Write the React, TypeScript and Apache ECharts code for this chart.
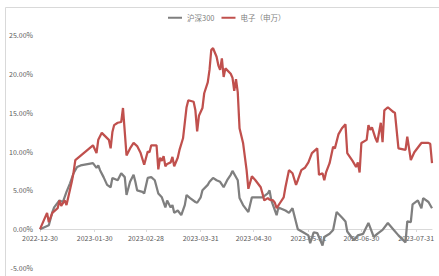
import React, { useEffect, useRef } from "react";
import * as echarts from "echarts";

// Day offsets from 2022-12-30
const tickDays = [0, 31, 60, 91, 121, 152, 182, 213];
const tickLabels = [
  "2022-12-30",
  "2023-01-30",
  "2023-02-28",
  "2023-03-31",
  "2023-04-30",
  "2023-05-31",
  "2023-06-30",
  "2023-07-31",
];

const yTicks = [-5, 0, 5, 10, 15, 20, 25];

// 沪深300 (cumulative return, %)
const hs300Days = [
  0, 5, 7, 8, 11, 13, 15, 17, 19, 21, 23, 30, 32, 33, 34, 36, 38, 40, 41, 44, 46, 48, 49, 51, 53, 54, 55, 58, 59,
  61, 63, 65, 67, 69, 71, 72, 74, 75, 76, 78, 80, 82, 83, 85, 88, 89, 91, 92, 95, 96, 98, 100, 102, 104, 106, 108,
  109, 112, 113, 115, 118, 120, 126, 129, 130, 131, 134, 135, 139, 141, 143, 146, 149, 152, 153, 155, 157, 160, 161,
  164, 166, 168, 171, 173, 174, 177, 178, 180, 183, 186, 189, 191, 194, 197, 200, 203, 207, 208, 210, 211, 214, 216,
  217, 220, 222,
];
const hs300Values = [
  0.0, 0.5, 2.2, 2.8, 3.7, 3.5, 4.8, 5.9, 7.2, 8.0, 8.2, 8.5, 7.9, 8.2, 7.6, 6.7, 5.7, 5.4, 6.6, 6.3, 7.2, 6.7, 4.4,
  6.1, 7.0, 6.1, 5.0, 4.8, 4.6, 6.6, 6.7, 6.3, 4.6, 4.1, 2.8, 3.7, 2.8, 3.1, 2.1, 2.4, 1.8, 3.1, 4.4, 4.0, 3.5, 3.4,
  4.1, 5.0, 5.7, 6.1, 6.6, 6.3, 6.1, 5.4, 6.3, 7.0, 7.5, 6.3, 4.0, 3.1, 2.2, 4.1, 4.1, 4.6, 5.0, 3.7, 1.8, 2.8, 2.4,
  2.1, 2.7, 0.0, -0.4, -0.8, -1.8, -0.4, -0.5, -2.1, -1.0, -0.6, -0.1, 2.2, 1.5, 1.0, -0.3, -1.2, -1.4, -0.8, -0.6,
  0.8, -1.0, -0.6, -0.1, 0.8, 0.0, -0.8, -1.7, 1.0, 0.9, 3.2, 3.7, 2.7, 4.0, 3.5, 2.7,
];

// 电子（申万） (cumulative return, %)
const elecDays = [
  0, 4, 5, 7, 10, 11, 12, 14, 15, 18, 19, 20, 30, 32, 33, 35, 39, 40, 41, 42, 44, 46, 47, 49, 51, 53, 55, 57, 59, 61,
  62, 63, 66, 67, 68, 69, 70, 71, 72, 74, 75, 76, 78, 79, 81, 83, 84, 87, 88, 89, 90, 92, 93, 95, 96, 97, 98, 100,
  101, 102, 103, 104, 105, 108, 109, 110, 111, 112, 113, 115, 117, 118, 120, 122, 125, 126, 127, 129, 130, 132, 133,
  134, 136, 138, 139, 141, 143, 145, 146, 148, 150, 152, 154, 157, 158, 160, 161, 162, 164, 166, 167, 169, 171, 173,
  174, 177, 179, 180, 181, 182, 185, 186, 187, 188, 190, 191, 193, 194, 195, 197, 200, 201, 203, 207, 208, 210, 212,
  215, 216, 220, 221, 222,
];
const elecValues = [
  0.0, 2.1, 0.9, 2.1, 2.7, 3.7, 3.0, 3.7, 3.1, 6.1, 7.3, 8.9, 10.8, 9.8, 11.5, 12.4, 11.5, 10.4, 12.5, 13.4, 13.7,
  13.8, 15.6, 9.5, 10.4, 11.1, 10.7, 9.8, 8.3, 10.0, 9.9, 10.8, 10.8, 7.7, 9.2, 8.8, 9.4, 8.1, 8.4, 8.6, 9.3, 8.1, 9.2,
  10.2, 11.7, 15.7, 16.6, 16.4, 15.3, 12.6, 14.6, 15.6, 17.5, 18.9, 20.5, 23.1, 23.3, 22.2, 21.1, 20.5, 22.0, 19.6,
  20.7, 20.0, 19.5, 17.8, 19.3, 17.6, 13.0, 11.1, 7.6, 5.2, 6.8, 6.3, 5.4, 4.6, 3.7, 4.0, 3.8, 3.7, 3.4, 2.7, 3.4,
  4.1, 5.4, 7.6, 7.2, 5.7, 6.3, 7.6, 7.9, 8.6, 9.8, 10.4, 7.0, 7.2, 6.3, 7.3, 8.5, 10.6, 10.4, 12.2, 13.0, 13.5, 9.8,
  8.8, 8.0, 8.6, 7.3, 11.1, 11.5, 13.4, 12.8, 13.1, 11.7, 11.2, 13.7, 11.2, 15.3, 15.7, 15.1, 15.0, 10.4, 10.2, 11.9,
  8.9, 9.9, 10.8, 11.1, 11.1, 11.0, 8.5,
];

const seriesNames = ["沪深300", "电子（申万）"];
const seriesColors = ["#7f7f7f", "#c0504d"];

const FONT = "'Noto Sans CJK SC', 'Noto Sans', sans-serif";

export default function App() {
  const ref = useRef<HTMLDivElement>(null);

  useEffect(() => {
    document.body.style.margin = "0";
    if (!ref.current) return;
    const chart = echarts.init(ref.current, undefined, { renderer: "svg" });

    const pair = (d: number[], v: number[]) => d.map((x, i) => [x, v[i]]);

    chart.setOption({
      animation: false,
      backgroundColor: "#ffffff",
      textStyle: { fontFamily: FONT },
      graphic: [
        {
          type: "rect",
          silent: true,
          z: -10,
          shape: { x: 5.5, y: 7.5, width: 600, height: 400 },
          style: { fill: "none", stroke: "#d9d9d9", lineWidth: 1 },
        },
      ],
      legend: {
        top: 14,
        left: 168,
        padding: 0,
        icon: "rect",
        itemWidth: 14,
        itemHeight: 2,
        itemGap: 7,
        textStyle: { fontSize: 7.5, color: "#7f7f7f", fontFamily: FONT },
        data: seriesNames,
      },
      grid: { left: 40, right: 7, top: 35, bottom: 8, containLabel: false },
      xAxis: {
        type: "value",
        min: 0,
        max: 222,
        offset: -39,
        splitLine: { show: false },
        axisLine: { show: true, onZero: false, lineStyle: { color: "#d9d9d9", width: 1 } },
        axisTick: {
          show: true,
          customValues: tickDays,
          length: 3,
          lineStyle: { color: "#d9d9d9" },
        },
        axisLabel: {
          customValues: tickDays,
          fontSize: 7,
          color: "#595959",
          margin: 5,
          fontFamily: FONT,
          formatter: (v: number) => {
            const i = tickDays.indexOf(Math.round(v));
            return i >= 0 ? tickLabels[i] : "";
          },
        },
      },
      yAxis: {
        type: "value",
        min: yTicks[0],
        max: yTicks[yTicks.length - 1],
        interval: 5,
        splitLine: { show: false },
        axisLine: { show: false, onZero: false },
        axisTick: { show: false },
        axisLabel: {
          fontSize: 7,
          color: "#595959",
          margin: 7,
          fontFamily: FONT,
          formatter: (v: number) => v.toFixed(2) + "%",
        },
      },
      series: [
        {
          name: seriesNames[0],
          type: "line",
          data: pair(hs300Days, hs300Values),
          symbol: "none",
          z: 5,
          lineStyle: { color: seriesColors[0], width: 2.25 },
          itemStyle: { color: seriesColors[0] },
        },
        {
          name: seriesNames[1],
          type: "line",
          data: pair(elecDays, elecValues),
          symbol: "none",
          z: 5,
          lineStyle: { color: seriesColors[1], width: 2.25 },
          itemStyle: { color: seriesColors[1] },
        },
      ],
    });

    return () => chart.dispose();
  }, []);

  return <div ref={ref} style={{ width: 439, height: 276 }} />;
}
